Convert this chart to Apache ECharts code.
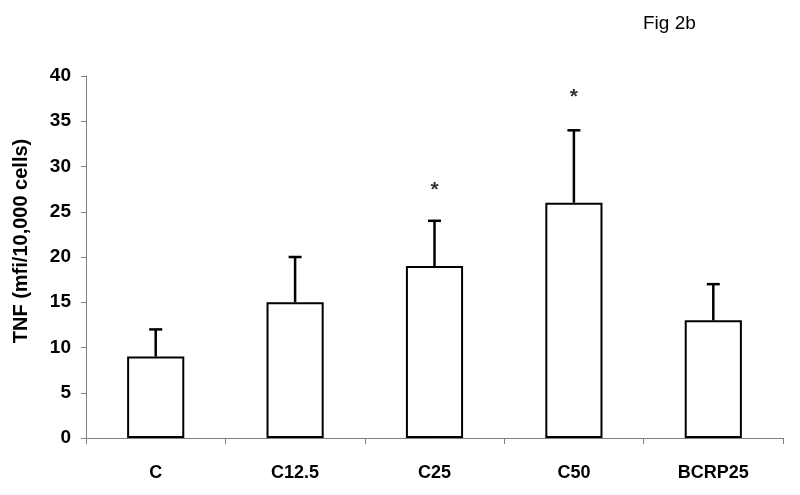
<!DOCTYPE html>
<html><head><meta charset="utf-8">
<script src="https://cdn.jsdelivr.net/npm/echarts@6/dist/echarts.min.js"></script>
<style>html,body{margin:0;padding:0;background:#fff}#c{width:800px;height:495px}</style>
</head><body><div id="c"></div>
<script>
const categories = ['C', 'C12.5', 'C25', 'C50', 'BCRP25'];
const means = [9, 15, 19, 26, 13];
const errUpper = [12, 20, 24, 34, 17];
const sigMarkPos = [null, null, 27.4, 37.7, null];
const sigMarks = ['', '', '*', '*', ''];
const yTicks = [0, 5, 10, 15, 20, 25, 30, 35, 40];

const FONT = '"Liberation Sans", Arial, sans-serif';
const sigData = [];
sigMarkPos.forEach((v, i) => { if (v != null) sigData.push([categories[i], v]); });

const chart = echarts.init(document.getElementById('c'), null, {renderer: 'canvas'});
chart.setOption({
  animation: false,
  backgroundColor: '#fff',
  title: {
    text: 'Fig 2b', left: 638, top: 9,
    textStyle: {fontFamily: FONT, fontSize: 19, fontWeight: 'normal', color: '#000'}
  },
  grid: {left: 86, right: 17, top: 76, bottom: 57, containLabel: false},
  xAxis: {
    type: 'category', data: categories, boundaryGap: true,
    axisLine: {lineStyle: {color: '#808080', width: 1}},
    axisTick: {show: true, length: 6, lineStyle: {color: '#808080'}},
    axisLabel: {fontFamily: FONT, fontSize: 18, fontWeight: 'bold', color: '#000', margin: 26}
  },
  yAxis: {
    type: 'value', min: yTicks[0], max: yTicks[yTicks.length - 1], interval: 5,
    name: 'TNF (mfi/10,000 cells)', nameLocation: 'middle', nameGap: 55,
    nameTextStyle: {fontFamily: FONT, fontSize: 20, fontWeight: 'bold', color: '#000', padding: [0, 0, 0, 32]},
    axisLine: {show: true, lineStyle: {color: '#808080', width: 1}},
    axisTick: {show: true, length: 5, lineStyle: {color: '#808080'}},
    axisLabel: {fontFamily: FONT, fontSize: 19, fontWeight: 'bold', color: '#000', margin: 15},
    splitLine: {show: false}
  },
  series: [
    {
      type: 'bar', data: means, barWidth: '41%',
      itemStyle: {color: '#fff', borderColor: '#000', borderWidth: 2},
      z: 3
    },
    {
      type: 'custom', z: 2,
      data: means.map((m, i) => [i, m, errUpper[i]]),
      renderItem: function (params, api) {
        const p0 = api.coord([api.value(0), api.value(1)]);
        const p1 = api.coord([api.value(0), api.value(2)]);
        const hw = 6.5;
        return {
          type: 'group',
          children: [
            {type: 'line', shape: {x1: p0[0], y1: p0[1], x2: p1[0], y2: p1[1]}, style: {stroke: '#000', lineWidth: 2.5}},
            {type: 'line', shape: {x1: p1[0] - hw, y1: p1[1], x2: p1[0] + hw, y2: p1[1]}, style: {stroke: '#000', lineWidth: 2.5}}
          ]
        };
      }
    },
    {
      type: 'scatter', symbolSize: 0, z: 4,
      data: sigData,
      label: {
        show: true, position: 'inside',
        formatter: p => sigMarks[categories.indexOf(p.value[0])] || '*',
        fontFamily: FONT, fontSize: 21, fontWeight: 'bold', color: '#000'
      }
    }
  ]
});
</script></body></html>
